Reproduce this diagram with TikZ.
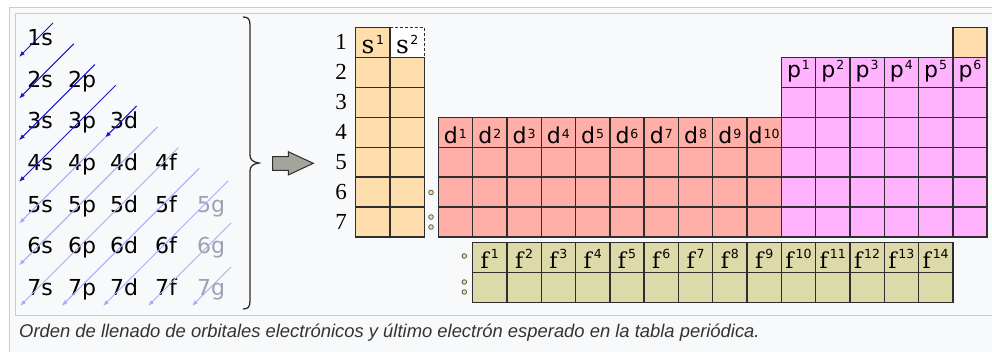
\documentclass[tikz,border=0pt]{standalone}
\usepackage{fontspec}
\usetikzlibrary{arrows.meta}
\newfontfamily\djs{DejaVu Sans}
\newfontfamily\djser{DejaVu Serif}
\newfontfamily\rowfont{Liberation Serif}
\newfontfamily\capfont{Liberation Sans}
\definecolor{sblk}{HTML}{FFDEAD}
\definecolor{dblk}{HTML}{FFAFA8}
\definecolor{pblk}{HTML}{FFB3FF}
\definecolor{fblk}{HTML}{DCDAA8}
\definecolor{gridc}{HTML}{2E2E2E}
\definecolor{dkblue}{HTML}{1818C8}
\definecolor{ltblue}{HTML}{AAAAFF}
\definecolor{gtxt}{HTML}{A0A0B4}
\definecolor{framec}{HTML}{C8CCD1}
\definecolor{bgc}{HTML}{F8F9FA}
\definecolor{arrowfill}{HTML}{A3A59B}
\definecolor{dotfill}{HTML}{E4E4BC}
\definecolor{dotdraw}{HTML}{5A5A3C}
\definecolor{capc}{HTML}{333333}
\newcommand\supF{\djs\fontsize{12.5}{12.5}\selectfont}
\begin{document}
\begin{tikzpicture}[x=1pt,y=-1pt,
  orb/.style={anchor=base, inner sep=0, font=\djs\fontsize{22}{22}\selectfont},
  rowlab/.style={anchor=base east, inner sep=0, font=\rowfont\fontsize{23}{23}\selectfont},
  grid/.style={draw=gridc, line width=1.4pt},
  dk/.style={draw=dkblue, line width=1pt, -{Latex[length=6pt,width=4.5pt]}},
  lt/.style={draw=ltblue, line width=1pt, -{Latex[length=6pt,width=4.5pt]}},
  dotc/.style={draw=dotdraw, fill=dotfill, line width=0.8pt},
  clab/.style={anchor=base, inner sep=0},
]
\useasboundingbox (0,0) rectangle (992,352);
\fill[white] (0,0) rectangle (992,352);
% frames
\draw[framec, fill=bgc, line width=1pt] (9.5,7.5) rectangle (1000,360);
\draw[framec, fill=bgc, line width=1pt] (15.5,13.5) rectangle (1000,315);

% orbital labels
\foreach \n in {1,...,7}{
  \foreach \l/\c in {0/s,1/p,2/d,3/f}{
    \ifnum\l<\n
      \node[orb] (o\n\c) at ({40+42*\l}, {37+41.67*(\n-1)+8.5}) {\n\c};
    \fi
  }
}
\foreach \n in {5,6,7}{
  \node[orb, text=gtxt] (o\n g) at (211, {37+41.67*(\n-1)+8.5}) {\n g};
}

% diagonal filling lines
\foreach \k/\ux/\uy/\lx/\ly in {1/53/23/19/57, 2/73.9/43.8/19/98.67, 3/94.8/64.5/19/140.3, 4/115.7/85.3/19/182}{
  \coordinate (u\k) at (\ux,\uy);
  \coordinate (e\k) at (\lx,\ly);
}
\foreach \k/\ux/\uy/\lx/\ly in {5/136.6/106.1/19/223.67, 6/157.5/126.8/19/265.3, 7/178.4/147.6/20/306, 8/199.3/168.4/61.67/306, 9/228/181/103/306, 10/231/223/148/306, 11/231/267/192/306}{
  \coordinate (u\k) at (\ux,\uy);
  \coordinate (e\k) at (\lx,\ly);
}
\coordinate (m5) at (105,137.67);
\draw[lt] (m5) -- (e5);
\foreach \k in {6,...,11}{ \draw[lt] (u\k) -- (e\k); }
\foreach \k in {1,...,4}{ \draw[dk] (u\k) -- (e\k); }
\draw[dk] (u5) -- (m5);

% brace
\draw[gridc, line width=1.3pt] (243,17) .. controls (248,17) and (250,19) .. (250,25) -- (250,155) .. controls (250,160) and (253,162) .. (259,163) .. controls (253,164) and (250,166) .. (250,171) -- (250,301) .. controls (250,307) and (248,309) .. (243,309);

% block arrow
\draw[draw=gridc, fill=arrowfill, line width=1pt] (272.7,156.7) -- (288.3,156.7) -- (288.3,151.7) -- (313.3,163.3) -- (288.3,175) -- (288.3,170.3) -- (272.7,170.3) -- cycle;

% s block
\foreach \r in {1,...,7}{
  \draw[grid, fill=sblk] (355.7, {27.7+29.9*(\r-1)}) rectangle +(34.3,29.9);
}
\foreach \r in {2,...,7}{
  \draw[grid, fill=sblk] (390, {27.7+29.9*(\r-1)}) rectangle +(34.3,29.9);
}
\fill[white] (390.7,27.7) rectangle (424.3,56.9);
\draw[grid, dash pattern=on 3pt off 2pt] (390,27.7) -- (424.3,27.7) -- (424.3,57.6);
% d block
\foreach \i in {0,...,9}{
  \foreach \r in {4,...,7}{
    \draw[grid, fill=dblk] ({438.3+34.3*\i}, {27.7+29.9*(\r-1)}) rectangle +(34.3,29.9);
  }
}
% p block
\foreach \j in {0,...,5}{
  \foreach \r in {2,...,7}{
    \draw[grid, fill=pblk] ({781.3+34.3*\j}, {27.7+29.9*(\r-1)}) rectangle +(34.3,29.9);
  }
}
\draw[grid, fill=sblk] (952.8,27.7) rectangle +(34.3,29.9);
% f block
\foreach \i in {0,...,13}{
  \foreach \r in {0,1}{
    \draw[grid, fill=fblk] ({472.6+34.3*\i}, {242.3+30*\r}) rectangle +(34.3,30);
  }
}

% row labels
\foreach \r in {1,...,7}{
  \node[rowlab] (row\r) at (347, {27.7+29.9*(\r-1)+22.3}) {\r};
}

% cell labels
\node[clab] (ls1) at (372.85,53.3) {\djser\fontsize{25}{25}\selectfont s\hspace{1.5pt}\raisebox{8.5pt}{\supF 1}};
\node[clab] (ls2) at (407.15,53.3) {\djser\fontsize{25}{25}\selectfont s\hspace{1.5pt}\raisebox{8.5pt}{\supF 2}};
\foreach \i in {1,...,10}{
  \node[clab] (ld\i) at ({438.3+34.3*(\i-1)+17.15}, 144) {\djs\fontsize{22}{22}\selectfont d\hspace{1pt}\raisebox{5.7pt}{\supF\i}};
}
\foreach \i in {1,...,6}{
  \node[clab] (lp\i) at ({781.3+34.3*(\i-1)+17.15}, 77.3) {\djs\fontsize{22}{22}\selectfont p\hspace{1pt}\raisebox{8pt}{\supF\i}};
}
\foreach \i in {1,...,14}{
  \node[clab] (lf\i) at ({472.6+34.3*(\i-1)+17.15}, 268.3) {\djser\fontsize{22}{22}\selectfont f\hspace{2pt}\raisebox{9.5pt}{\supF\i}};
}

% dots
\draw[dotc] (431,192.5) circle (2.3pt);
\draw[dotc] (431,217) circle (2.3pt);
\draw[dotc] (431,227) circle (2.3pt);
\draw[dotc] (464.3,256) circle (2.3pt);
\draw[dotc] (464.3,282) circle (2.3pt);
\draw[dotc] (464.3,292) circle (2.3pt);

% caption
\node[anchor=base west, inner sep=0, text=capc, font=\capfont\itshape\fontsize{18.4}{18.4}\selectfont] (cap) at (19,337) {Orden de llenado de orbitales electrónicos y último electrón esperado en la tabla periódica.};
\end{tikzpicture}
\end{document}
